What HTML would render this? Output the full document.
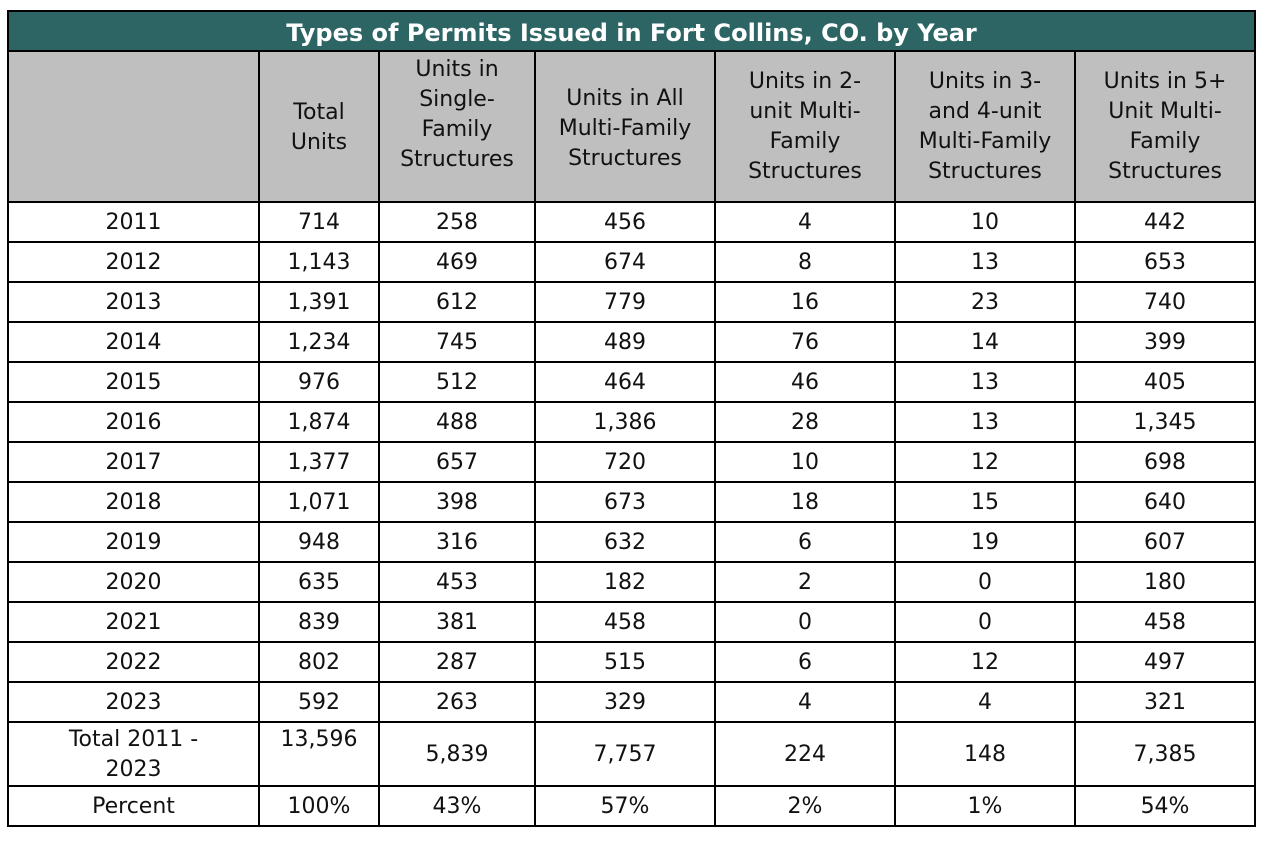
<!DOCTYPE html>
<html><head><meta charset="utf-8"><style>
body{margin:0;background:#fff;width:1266px;height:844px;overflow:hidden}
table{position:absolute;left:7px;top:10px;width:1247px;border-collapse:collapse;table-layout:fixed;font-family:"DejaVu Sans","Liberation Sans",sans-serif;font-size:22px;color:#111}
td,th{border:2px solid #000;text-align:center;padding:0;font-weight:normal;line-height:30px;overflow:visible}
.t{background:#2d6565;color:#fff;font-weight:bold;font-size:24px;height:34px;padding-top:4px}
.h td{background:#bfbfbf;height:149px;vertical-align:middle}
.d td{height:36px;padding-top:2px}
.tot td{height:56px;padding-top:2px}
.up{position:relative;top:-12px}
.upl{position:relative;top:1px}
.dn{position:relative;top:2px}
</style></head><body>
<table>
<colgroup><col style="width:251px"><col style="width:120px"><col style="width:156px"><col style="width:180px"><col style="width:180px"><col style="width:180px"><col style="width:180px"></colgroup>
<tr><td class="t" colspan="7">Types of Permits Issued in Fort Collins, CO. by Year</td></tr>
<tr class="h"><td></td><td><div class="upl">Total<br>Units</div></td><td><div class="up">Units in<br>Single-<br>Family<br>Structures</div></td><td><div class="dn">Units in All<br>Multi-Family<br>Structures</div></td><td>Units in 2-<br>unit Multi-<br>Family<br>Structures</td><td>Units in 3-<br>and 4-unit<br>Multi-Family<br>Structures</td><td>Units in 5+<br>Unit Multi-<br>Family<br>Structures</td></tr>
<tr class="d"><td>2011</td><td>714</td><td>258</td><td>456</td><td>4</td><td>10</td><td>442</td></tr>
<tr class="d"><td>2012</td><td>1,143</td><td>469</td><td>674</td><td>8</td><td>13</td><td>653</td></tr>
<tr class="d"><td>2013</td><td>1,391</td><td>612</td><td>779</td><td>16</td><td>23</td><td>740</td></tr>
<tr class="d"><td>2014</td><td>1,234</td><td>745</td><td>489</td><td>76</td><td>14</td><td>399</td></tr>
<tr class="d"><td>2015</td><td>976</td><td>512</td><td>464</td><td>46</td><td>13</td><td>405</td></tr>
<tr class="d"><td>2016</td><td>1,874</td><td>488</td><td>1,386</td><td>28</td><td>13</td><td>1,345</td></tr>
<tr class="d"><td>2017</td><td>1,377</td><td>657</td><td>720</td><td>10</td><td>12</td><td>698</td></tr>
<tr class="d"><td>2018</td><td>1,071</td><td>398</td><td>673</td><td>18</td><td>15</td><td>640</td></tr>
<tr class="d"><td>2019</td><td>948</td><td>316</td><td>632</td><td>6</td><td>19</td><td>607</td></tr>
<tr class="d"><td>2020</td><td>635</td><td>453</td><td>182</td><td>2</td><td>0</td><td>180</td></tr>
<tr class="d"><td>2021</td><td>839</td><td>381</td><td>458</td><td>0</td><td>0</td><td>458</td></tr>
<tr class="d"><td>2022</td><td>802</td><td>287</td><td>515</td><td>6</td><td>12</td><td>497</td></tr>
<tr class="d"><td>2023</td><td>592</td><td>263</td><td>329</td><td>4</td><td>4</td><td>321</td></tr>
<tr class="tot"><td style="vertical-align:top">Total 2011 -<br>2023</td><td style="vertical-align:top">13,596</td><td>5,839</td><td>7,757</td><td>224</td><td>148</td><td>7,385</td></tr>
<tr class="d"><td>Percent</td><td>100%</td><td>43%</td><td>57%</td><td>2%</td><td>1%</td><td>54%</td></tr>
</table>
</body></html>
